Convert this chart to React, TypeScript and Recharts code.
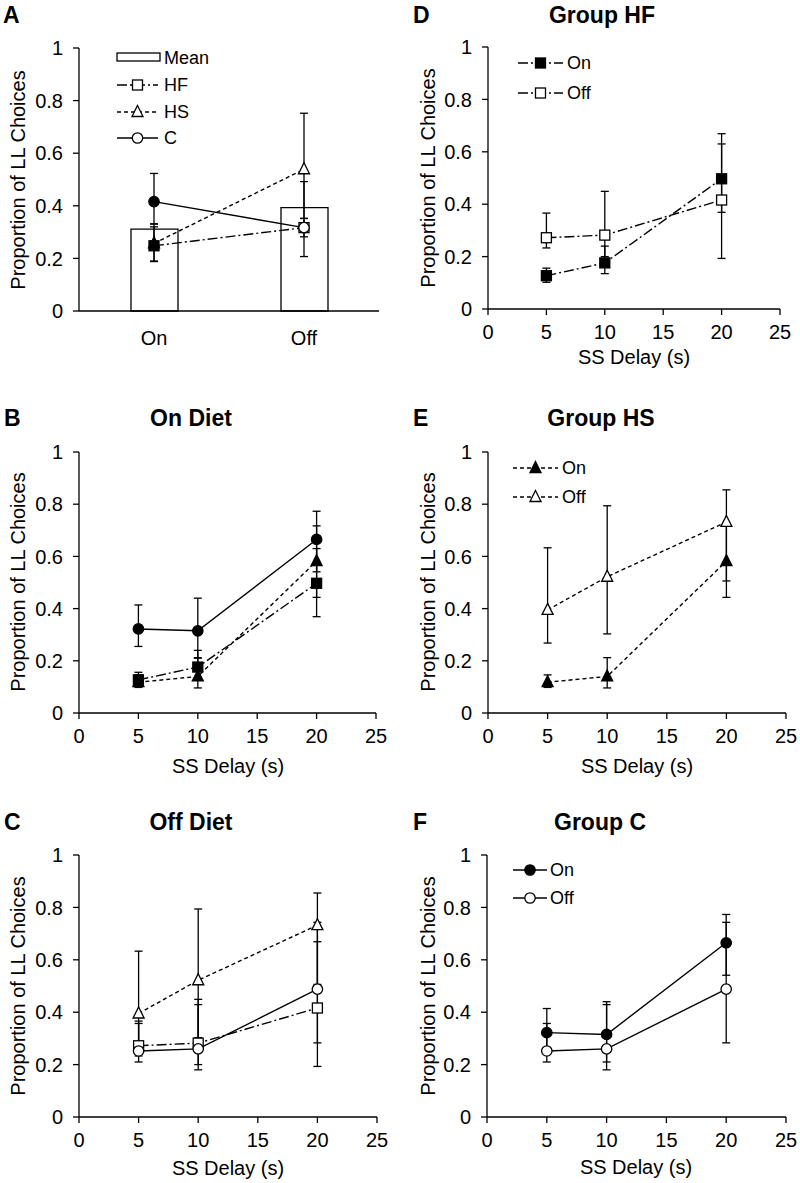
import React from 'react';
import { ComposedChart, Line, Bar, XAxis, YAxis, ErrorBar } from 'recharts';

const FONT = '"Liberation Sans", Arial, Helvetica, sans-serif';

// Panel A: collapsed over delays, by diet condition
const dietLabels = ['On', 'Off'];
const meanByDiet = [0.311, 0.393];
const hfByDiet = [0.248, 0.317];
const hfByDietLo = [0.06, 0.035];
const hfByDietHi = [0.072, 0.035];
const hsByDiet = [0.257, 0.539];
const hsByDietLo = [0.067, 0.187];
const hsByDietHi = [0.074, 0.213];
const cByDiet = [0.416, 0.317];
const cByDietLo = [0.085, 0.11];
const cByDietHi = [0.107, 0.175];

// Panels B-F: by SS delay
const delays = [5, 10, 20];
const xTicks = [0, 5, 10, 15, 20, 25];
const yTicks = [0, 0.2, 0.4, 0.6, 0.8, 1];

const hfOn = [0.127, 0.176, 0.497];
const hfOnLo = [0.025, 0.041, 0.128];
const hfOnHi = [0.029, 0.064, 0.133];
const hfOff = [0.272, 0.282, 0.416];
const hfOffLo = [0.039, 0.082, 0.223];
const hfOffHi = [0.094, 0.167, 0.253];

const hsOn = [0.118, 0.14, 0.582];
const hsOnLo = [0.02, 0.044, 0.139];
const hsOnHi = [0.028, 0.072, 0.135];
const hsOff = [0.395, 0.522, 0.732];
const hsOffLo = [0.127, 0.219, 0.226];
const hsOffHi = [0.238, 0.272, 0.123];

const cOn = [0.322, 0.315, 0.665];
const cOnLo = [0.067, 0.105, 0.124];
const cOnHi = [0.092, 0.125, 0.108];
const cOff = [0.252, 0.26, 0.488];
const cOffLo = [0.042, 0.08, 0.205];
const cOffHi = [0.105, 0.169, 0.255];

const HF_DASH = '10 3 2 3';
const HS_DASH = '4 3';
const LW = 1.4;

type Shape = 'square' | 'triangle' | 'circle';

type Series = {
  id: string;
  values: number[];
  lo: number[];
  hi: number[];
  shape: Shape;
  filled: boolean;
  dash?: string;
};

const Marker = ({ cx, cy, shape, filled }: { cx: number; cy: number; shape: Shape; filled: boolean }) => {
  const fill = filled ? '#000' : '#fff';
  if (shape === 'square')
    return <rect x={cx - 5} y={cy - 5} width={10} height={10} fill={fill} stroke="#000" strokeWidth={1.3} />;
  if (shape === 'triangle')
    return (
      <polygon
        points={`${cx},${cy - 6.5} ${cx + 5.5},${cy + 4.5} ${cx - 5.5},${cy + 4.5}`}
        fill={fill}
        stroke="#000"
        strokeWidth={1.3}
      />
    );
  return <circle cx={cx} cy={cy} r={5.2} fill={fill} stroke="#000" strokeWidth={1.3} />;
};

const series = (id: string, values: number[], lo: number[], hi: number[], shape: Shape, filled: boolean, dash?: string): Series => ({
  id, values, lo, hi, shape, filled, dash,
});

const S = {
  hfOn: series('hfOn', hfOn, hfOnLo, hfOnHi, 'square', true, HF_DASH),
  hfOff: series('hfOff', hfOff, hfOffLo, hfOffHi, 'square', false, HF_DASH),
  hsOn: series('hsOn', hsOn, hsOnLo, hsOnHi, 'triangle', true, HS_DASH),
  hsOff: series('hsOff', hsOff, hsOffLo, hsOffHi, 'triangle', false, HS_DASH),
  cOn: series('cOn', cOn, cOnLo, cOnHi, 'circle', true),
  cOff: series('cOff', cOff, cOffLo, cOffHi, 'circle', false),
};

function buildRows(list: Series[]) {
  return delays.map((d, i) => {
    const row: Record<string, any> = { delay: d };
    list.forEach((s) => {
      row[s.id] = s.values[i];
      row[s.id + 'Err'] = [s.lo[i], s.hi[i]];
    });
    return row;
  });
}

const tickStyle = { fontSize: 20, fill: '#000', fontFamily: FONT };
const axisLine = { stroke: '#000', strokeWidth: 1.3 };

const abs = (left: number, top: number, extra: React.CSSProperties = {}): React.CSSProperties => ({
  position: 'absolute', left, top, whiteSpace: 'nowrap', lineHeight: 1, ...extra,
});

const Letter = ({ x, y, text }: { x: number; y: number; text: string }) => (
  <div style={abs(x, y, { fontSize: 23, fontWeight: 'bold', transform: 'translateY(-50%)' })}>{text}</div>
);
const Title = ({ x, y, text }: { x: number; y: number; text: string }) => (
  <div style={abs(x, y, { fontSize: 23, fontWeight: 'bold', transform: 'translate(-50%,-50%)' })}>{text}</div>
);
const YTitle = ({ x, y }: { x: number; y: number }) => (
  <div style={abs(x, y, { fontSize: 20, transform: 'translate(-50%,-50%) rotate(-90deg)' })}>Proportion of LL Choices</div>
);
const XTitle = ({ x, y }: { x: number; y: number }) => (
  <div style={abs(x, y, { fontSize: 20, transform: 'translate(-50%,-50%)' })}>SS Delay (s)</div>
);

const LegendRow = ({ x1, x2, y, textX, label, shape, filled, dash }: {
  x1: number; x2: number; y: number; textX: number; label: string; shape: Shape; filled: boolean; dash?: string;
}) => (
  <>
    <svg style={{ position: 'absolute', left: x1, top: y - 9, overflow: 'visible' }} width={x2 - x1} height={18}>
      <line x1={0} y1={9} x2={x2 - x1} y2={9} stroke="#000" strokeWidth={LW} strokeDasharray={dash} />
      <Marker cx={(x2 - x1) / 2} cy={9} shape={shape} filled={filled} />
    </svg>
    <div style={abs(textX, y, { fontSize: 18, transform: 'translateY(-50%)' })}>{label}</div>
  </>
);

type PanelProps = {
  left: number;
  plotLeft: number;
  plotWidth: number;
  plotTop: number;
  plotHeight: number;
  list: Series[];
};

const DelayPanel = ({ left, plotLeft, plotWidth, plotTop, plotHeight, list }: PanelProps) => {
  const axisW = plotLeft - left;
  const rows = buildRows(list);
  return (
    <div style={{ position: 'absolute', left, top: plotTop - 10 }}>
      <ComposedChart
        width={400}
        height={10 + plotHeight + 40}
        data={rows}
        margin={{ top: 10, right: 400 - axisW - plotWidth, bottom: 0, left: 0 }}
      >
        <XAxis
          type="number"
          dataKey="delay"
          domain={[0, 25]}
          ticks={xTicks}
          interval={0}
          height={40}
          tickSize={6}
          tickMargin={10}
          axisLine={axisLine}
          tickLine={axisLine}
          tick={tickStyle}
        />
        <YAxis
          type="number"
          domain={[0, 1]}
          ticks={yTicks}
          interval={0}
          width={axisW}
          tickSize={6}
          tickMargin={10}
          axisLine={axisLine}
          tickLine={axisLine}
          tick={tickStyle}
        />
        {list.map((s) => (
          <Line
            key={s.id}
            dataKey={s.id}
            stroke="#000"
            strokeWidth={LW}
            strokeDasharray={s.dash}
            isAnimationActive={false}
            activeDot={false}
            dot={(p: any) => <Marker key={`${s.id}-${p.index}`} cx={p.cx} cy={p.cy} shape={s.shape} filled={s.filled} />}
          >
            <ErrorBar dataKey={s.id + 'Err'} direction="y" width={4} stroke="#000" strokeWidth={1.3} />
          </Line>
        ))}
      </ComposedChart>
    </div>
  );
};

const DietPanel = () => {
  const rows = dietLabels.map((d, i) => ({
    diet: d,
    mean: meanByDiet[i],
    hf: hfByDiet[i],
    hfErr: [hfByDietLo[i], hfByDietHi[i]],
    hs: hsByDiet[i],
    hsErr: [hsByDietLo[i], hsByDietHi[i]],
    c: cByDiet[i],
    cErr: [cByDietLo[i], cByDietHi[i]],
  }));
  const lines: { id: string; shape: Shape; dash?: string }[] = [
    { id: 'hs', shape: 'triangle', dash: HS_DASH },
    { id: 'hf', shape: 'square', dash: HF_DASH },
    { id: 'c', shape: 'circle' },
  ];
  return (
    <div style={{ position: 'absolute', left: 0, top: 38 }}>
      <ComposedChart width={400} height={10 + 263 + 40} data={rows} margin={{ top: 10, right: 21, bottom: 0, left: 0 }}>
        <XAxis
          dataKey="diet"
          height={40}
          tickLine={false}
          tickMargin={14}
          axisLine={axisLine}
          tick={tickStyle}
        />
        <YAxis
          type="number"
          domain={[0, 1]}
          ticks={yTicks}
          interval={0}
          width={79}
          tickSize={6}
          tickMargin={10}
          axisLine={axisLine}
          tickLine={axisLine}
          tick={tickStyle}
        />
        <Bar dataKey="mean" barSize={47} fill="#fff" stroke="#000" strokeWidth={1.3} isAnimationActive={false} />
        {lines.map((l) => (
          <Line
            key={l.id}
            dataKey={l.id}
            stroke="#000"
            strokeWidth={LW}
            strokeDasharray={l.dash}
            isAnimationActive={false}
            activeDot={false}
            dot={(p: any) => (
              <Marker key={`${l.id}-${p.index}`} cx={p.cx} cy={p.cy} shape={l.shape} filled={p.payload.diet === 'On'} />
            )}
          >
            <ErrorBar dataKey={l.id + 'Err'} direction="y" width={4} stroke="#000" strokeWidth={1.3} />
          </Line>
        ))}
      </ComposedChart>
    </div>
  );
};

export default function App() {
  return (
    <div style={{ position: 'absolute', left: 0, top: 0, width: 800, height: 1183, background: '#fff', fontFamily: FONT, color: '#000' }}>
      {/* A */}
      <DietPanel />
      <Letter x={3} y={15} text="A" />
      <YTitle x={18} y={180} />
      <svg style={{ position: 'absolute', left: 117, top: 53, overflow: 'visible' }} width={43} height={8}>
        <rect x={0} y={0} width={43} height={8} fill="#fff" stroke="#000" strokeWidth={1.3} />
      </svg>
      <div style={abs(164, 58, { fontSize: 18, transform: 'translateY(-50%)' })}>Mean</div>
      <LegendRow x1={117} x2={158} y={85} textX={164} label="HF" shape="square" filled={false} dash={HF_DASH} />
      <LegendRow x1={117} x2={158} y={112} textX={164} label="HS" shape="triangle" filled={false} dash={HS_DASH} />
      <LegendRow x1={117} x2={158} y={138} textX={164} label="C" shape="circle" filled={false} />

      {/* D */}
      <DelayPanel left={400} plotLeft={488} plotWidth={292} plotTop={47} plotHeight={262} list={[S.hfOff, S.hfOn]} />
      <Letter x={413} y={15} text="D" />
      <Title x={602} y={15} text="Group HF" />
      <YTitle x={428} y={178} />
      <XTitle x={634} y={357} />
      <LegendRow x1={518} x2={563} y={63} textX={567} label="On" shape="square" filled dash={HF_DASH} />
      <LegendRow x1={518} x2={563} y={93} textX={567} label="Off" shape="square" filled={false} dash={HF_DASH} />

      {/* B */}
      <DelayPanel left={0} plotLeft={79} plotWidth={297} plotTop={452} plotHeight={261} list={[S.hsOn, S.hfOn, S.cOn]} />
      <Letter x={4} y={418} text="B" />
      <Title x={191} y={418} text="On Diet" />
      <YTitle x={18} y={582} />
      <XTitle x={228} y={766} />

      {/* E */}
      <DelayPanel left={400} plotLeft={488} plotWidth={298} plotTop={452} plotHeight={261} list={[S.hsOff, S.hsOn]} />
      <Letter x={413} y={418} text="E" />
      <Title x={601} y={418} text="Group HS" />
      <YTitle x={428} y={582} />
      <XTitle x={637} y={766} />
      <LegendRow x1={513} x2={558} y={468} textX={562} label="On" shape="triangle" filled dash={HS_DASH} />
      <LegendRow x1={513} x2={558} y={497} textX={562} label="Off" shape="triangle" filled={false} dash={HS_DASH} />

      {/* C */}
      <DelayPanel left={0} plotLeft={79} plotWidth={298} plotTop={855} plotHeight={262} list={[S.hsOff, S.hfOff, S.cOff]} />
      <Letter x={4} y={822} text="C" />
      <Title x={191} y={822} text="Off Diet" />
      <YTitle x={18} y={986} />
      <XTitle x={228} y={1168} />

      {/* F */}
      <DelayPanel left={400} plotLeft={487} plotWidth={299} plotTop={855} plotHeight={262} list={[S.cOff, S.cOn]} />
      <Letter x={413} y={822} text="F" />
      <Title x={600} y={822} text="Group C" />
      <YTitle x={428} y={986} />
      <XTitle x={636} y={1167} />
      <LegendRow x1={513} x2={547} y={870} textX={550} label="On" shape="circle" filled />
      <LegendRow x1={513} x2={547} y={898} textX={550} label="Off" shape="circle" filled={false} />
    </div>
  );
}
